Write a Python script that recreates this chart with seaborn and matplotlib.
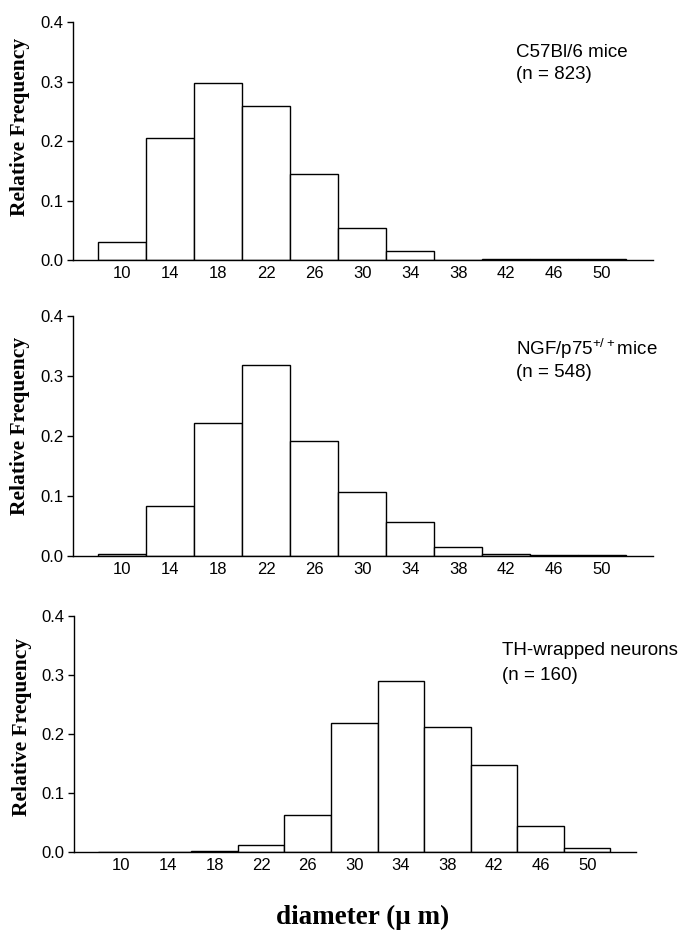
import matplotlib
matplotlib.use("Agg")
import matplotlib.pyplot as plt
import seaborn as sns
import pandas as pd

diameters = [10, 14, 18, 22, 26, 30, 34, 38, 42, 46, 50]
c57_freq = [0.030, 0.205, 0.298, 0.258, 0.144, 0.054, 0.015, 0.0, 0.001, 0.001, 0.001]
ngf_freq = [0.004, 0.084, 0.221, 0.318, 0.191, 0.107, 0.057, 0.015, 0.004, 0.001, 0.001]
th_freq = [0.0, 0.0, 0.001, 0.012, 0.063, 0.219, 0.290, 0.212, 0.148, 0.044, 0.006]
group_names = ["C57Bl/6 mice", "NGF/p75$^{+/+}$mice", "TH-wrapped neurons"]
group_n = ["(n = 823)", "(n = 548)", "(n = 160)"]
y_ticks = [0.0, 0.1, 0.2, 0.3, 0.4]

sns.set_theme(style="ticks")
plt.rcParams['font.family'] = ['Liberation Sans', 'DejaVu Sans']
plt.rcParams['mathtext.fontset'] = 'custom'
plt.rcParams['mathtext.rm'] = 'Liberation Sans'
plt.rcParams['text.color'] = 'black'
plt.rcParams['xtick.color'] = 'black'
plt.rcParams['ytick.color'] = 'black'
plt.rcParams['axes.labelcolor'] = 'black'

fig = plt.figure(figsize=(6.84, 9.32), dpi=100)
positions = [
    [0.107, 0.721, 0.847, 0.2554],
    [0.107, 0.4034, 0.847, 0.2575],
    [0.108, 0.0858, 0.822, 0.2532],
]
text_x = [0.765, 0.765, 0.761]
line1_y = [0.854, 0.8375, 0.835]
line2_y = [0.761, 0.745, 0.729]
label_y = [0.56, 0.54, 0.53]
series = [c57_freq, ngf_freq, th_freq]

for i, (pos, vals) in enumerate(zip(positions, series)):
    ax = fig.add_axes(pos)
    df = pd.DataFrame({"d": [str(d) for d in diameters], "f": vals})
    sns.barplot(data=df, x="d", y="f", order=[str(d) for d in diameters],
                color="white", edgecolor="black", linewidth=1.0, width=1.0,
                ax=ax, errorbar=None, saturation=1)
    for p in ax.patches:
        p.set_facecolor("white")
        p.set_edgecolor("black")
    ax.set_xlim(-1.02, 11.05)
    ax.set_ylim(0, 0.4)
    ax.set_yticks(y_ticks)
    ax.set_yticklabels([f"{t:.1f}" for t in y_ticks], fontsize=12)
    ax.tick_params(axis="x", length=0, labelsize=12, pad=4.5)
    ax.tick_params(axis="y", length=4, width=1, direction="out", pad=3)
    sns.despine(ax=ax)
    for s in ["left", "bottom"]:
        ax.spines[s].set_linewidth(1.0)
        ax.spines[s].set_color("black")
    ax.set_xlabel("")
    ax.set_ylabel("Relative Frequency", family=["Liberation Serif"], fontweight="bold",
                  fontsize=15.5)
    ax.yaxis.set_label_coords(-0.075, label_y[i])
    ax.text(text_x[i], line1_y[i], group_names[i], transform=ax.transAxes,
            ha="left", va="baseline", fontsize=13.5)
    ax.text(text_x[i], line2_y[i], group_n[i], transform=ax.transAxes,
            ha="left", va="baseline", fontsize=13.5)
    ax.set_facecolor("white")

fig.text(0.53, 0.009, "diameter (\u03bc m)", family=["Liberation Serif"], fontweight="bold",
         fontsize=19.5, ha="center", va="baseline")

fig.savefig("out.png", dpi=100, facecolor="white")
